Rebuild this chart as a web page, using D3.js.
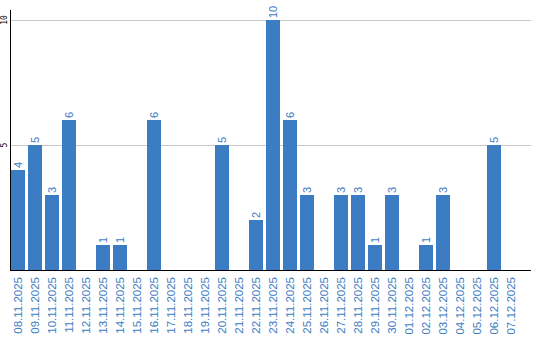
<!DOCTYPE html>
<html>
<head>
<meta charset="utf-8">
<script src="https://cdn.jsdelivr.net/npm/d3@7"></script>
<style>
  body { margin: 0; background: #fff; }
</style>
</head>
<body>
<div id="chart"></div>
<script>
// days and counts
var days = ["08.11.2025","09.11.2025","10.11.2025","11.11.2025","12.11.2025","13.11.2025",
  "14.11.2025","15.11.2025","16.11.2025","17.11.2025","18.11.2025","19.11.2025",
  "20.11.2025","21.11.2025","22.11.2025","23.11.2025","24.11.2025","25.11.2025",
  "26.11.2025","27.11.2025","28.11.2025","29.11.2025","30.11.2025","01.12.2025",
  "02.12.2025","03.12.2025","04.12.2025","05.12.2025","06.12.2025","07.12.2025"];
var counts = [4,5,3,6,0,1,1,0,6,0,0,0,5,0,2,10,6,3,0,3,3,1,3,0,1,3,0,0,5,0];
var yTicks = [5, 10];

var blue = "#3b7cc3";
var W = 540, H = 340;
var plotLeft = 10.5, plotBottom = 270, plotTop = 20, plotRight = 531;

var svg = d3.select("#chart").append("svg")
    .attr("width", W)
    .attr("height", H);

// x: 17px step, 14px bars
var x = d3.scaleBand()
    .domain(days)
    .range([9.5, 9.5 + 17 * days.length])
    .paddingInner(3 / 17)
    .paddingOuter(1.5 / 17);

var y = d3.scaleLinear().domain([0, 10]).range([plotBottom, plotTop]);

// gridlines
svg.selectAll(".grid")
    .data(yTicks)
  .enter().append("line")
    .attr("x1", plotLeft).attr("x2", plotRight)
    .attr("y1", function(d) { return Math.round(y(d)) + 0.5; })
    .attr("y2", function(d) { return Math.round(y(d)) + 0.5; })
    .attr("stroke", "#c8c8c8");

// y tick labels, rotated
svg.selectAll(".ylab")
    .data(yTicks)
  .enter().append("text")
    .attr("transform", function(d) { return "translate(7," + y(d) + ") rotate(-90)"; })
    .attr("text-anchor", "middle")
    .style("font", "8px 'DejaVu Sans Mono', monospace")
    .attr("fill", "#000")
    .text(function(d) { return d; });

// bars
svg.selectAll(".bar")
    .data(counts)
  .enter().append("rect")
    .attr("x", function(d, i) { return x(days[i]); })
    .attr("width", x.bandwidth())
    .attr("y", function(d) { return y(d); })
    .attr("height", function(d) { return plotBottom - y(d); })
    .attr("fill", blue);

// value labels above bars (skip zeros)
counts.forEach(function(d, i) {
  if (!d) return;
  svg.append("text")
    .attr("transform", "translate(" + (x(days[i]) + x.bandwidth() / 2 + 4) + "," + (y(d) - 2) + ") rotate(-90)")
    .attr("text-anchor", "start")
    .style("font", "11px 'Liberation Sans', Arial, sans-serif")
    .attr("fill", blue)
    .text(d);
});

// x labels
svg.selectAll(".xlab")
    .data(days)
  .enter().append("text")
    .attr("transform", function(d) { return "translate(" + (x(d) + x.bandwidth() / 2 + 4) + "," + (plotBottom + 7) + ") rotate(-90)"; })
    .attr("text-anchor", "end")
    .style("font", "11.5px 'Liberation Sans', Arial, sans-serif")
    .attr("fill", blue)
    .text(function(d) { return d; });

// axis lines
svg.append("line")
    .attr("x1", plotLeft).attr("x2", plotLeft)
    .attr("y1", 10).attr("y2", plotBottom + 1)
    .attr("stroke", "#000");
svg.append("line")
    .attr("x1", plotLeft - 0.5).attr("x2", plotRight)
    .attr("y1", plotBottom + 0.5).attr("y2", plotBottom + 0.5)
    .attr("stroke", "#000");
</script>
</body>
</html>
